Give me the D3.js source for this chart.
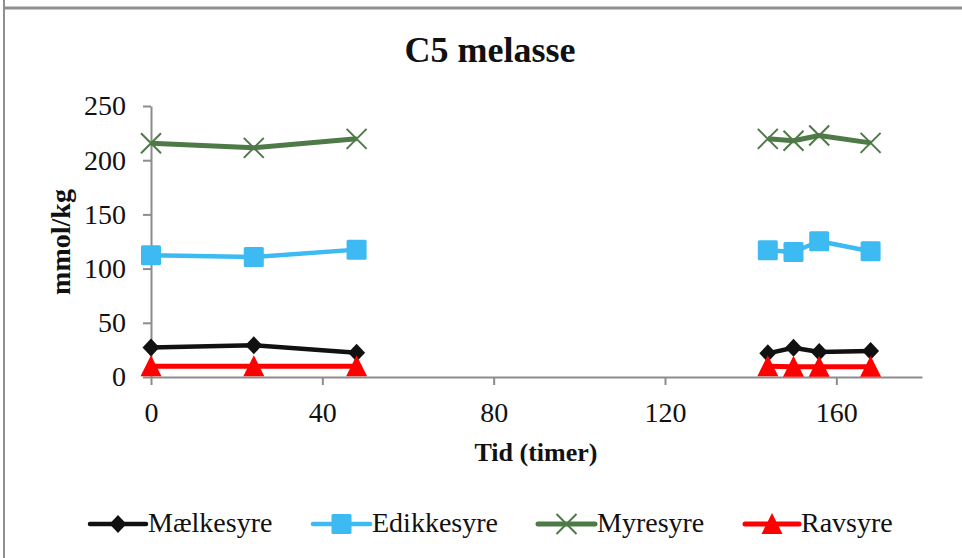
<!DOCTYPE html>
<html>
<head>
<meta charset="utf-8">
<script src="https://cdn.jsdelivr.net/npm/d3@7"></script>
<style>
  html, body { margin: 0; padding: 0; background: #fff; }
  svg { display: block; }
  svg text { font-family: "Liberation Serif", "Times New Roman", Times, "DejaVu Serif", serif; }
</style>
</head>
<body>
<svg id="chart" width="962" height="558"></svg>
<script>
// Sampling times (hours) and the sampling run each belongs to
const hours = [0, 24, 48, 144, 150, 156, 168];
const run   = [1, 1, 1, 2, 2, 2, 2];

// Concentrations, mmol/kg
const maelkesyre = [27.3, 29.3, 22.4, 21.8, 27.0, 23.0, 24.0];
const edikkesyre = [112.3, 110.7, 117.5, 116.9, 115.3, 125.2, 116.0];
const myresyre   = [215.7, 211.4, 219.7, 219.7, 218.0, 222.8, 216.0];
const ravsyre    = [10, 10, 10, 10, 9.5, 9.5, 9.5];

const seriesNames = ["Mælkesyre", "Edikkesyre", "Myresyre", "Ravsyre"];
const xTicks = [0, 40, 80, 120, 160];
const yTicks = [0, 50, 100, 150, 200, 250];

const FONT = "'Liberation Serif', 'Times New Roman', Times, 'DejaVu Serif', serif";

const svg = d3.select("#chart");
const W = 962, H = 558;

// outer frame of the chart area
svg.append("line").attr("x1", 4).attr("x2", W).attr("y1", 8).attr("y2", 8)
  .attr("stroke", "#8f8f8f").attr("stroke-width", 3);
svg.append("line").attr("x1", 4).attr("x2", 4).attr("y1", 0).attr("y2", H)
  .attr("stroke", "#8f8f8f").attr("stroke-width", 2);

const plot = { left: 151, right: 922, top: 106, bottom: 377 };

const x = d3.scaleLinear().domain([0, 180]).range([plot.left, plot.right]);
const y = d3.scaleLinear().domain([0, 250]).range([plot.bottom, plot.top]);

// Title
svg.append("text")
  .attr("x", 490).attr("y", 62)
  .attr("text-anchor", "middle")
  .style("font-family", FONT)
  .attr("font-size", 36).attr("font-weight", "bold").attr("fill", "#111")
  .text("C5 melasse");

// Axes
const axisColor = "#8c8c8c";
const yAxis = svg.append("g")
  .attr("transform", `translate(${plot.left},0)`)
  .call(d3.axisLeft(y).tickValues(yTicks).tickSize(8).tickPadding(17).tickSizeOuter(0));
const xAxis = svg.append("g")
  .attr("transform", `translate(0,${plot.bottom})`)
  .call(d3.axisBottom(x).tickValues(xTicks).tickSize(8).tickPadding(17).tickSizeOuter(0));

[xAxis, yAxis].forEach(g => {
  g.attr("font-family", null);
  g.select(".domain").attr("stroke", axisColor).attr("stroke-width", 2);
  g.selectAll(".tick line").attr("stroke", axisColor).attr("stroke-width", 2);
  g.selectAll(".tick text")
    .style("font-family", FONT)
    .attr("font-size", 28).attr("fill", "#111");
});

// Axis titles
svg.append("text")
  .attr("transform", "translate(70,242) rotate(-90)")
  .attr("text-anchor", "middle")
  .style("font-family", FONT)
  .attr("font-size", 28).attr("font-weight", "bold").attr("fill", "#111")
  .text("mmol/kg");
svg.append("text")
  .attr("x", 536).attr("y", 461)
  .attr("text-anchor", "middle")
  .style("font-family", FONT)
  .attr("font-size", 26).attr("font-weight", "bold").attr("fill", "#111")
  .text("Tid (timer)");

// Series styles
const series = [
  { name: seriesNames[0], values: maelkesyre, color: "#111111", width: 4.5, marker: "diamond" },
  { name: seriesNames[1], values: edikkesyre, color: "#3dbaf2", width: 4.5, marker: "square" },
  { name: seriesNames[2], values: myresyre,   color: "#4e7a47", width: 5,   marker: "cross" },
  { name: seriesNames[3], values: ravsyre,    color: "#ff0000", width: 5,   marker: "triangle" }
];

function drawMarker(g, type, color, cx, cy) {
  if (type === "diamond") {
    g.append("path")
      .attr("d", `M${cx},${cy - 9}L${cx + 8.5},${cy}L${cx},${cy + 9}L${cx - 8.5},${cy}Z`)
      .attr("fill", color);
  } else if (type === "square") {
    g.append("rect")
      .attr("x", cx - 10).attr("y", cy - 10).attr("width", 20).attr("height", 20)
      .attr("rx", 1.5)
      .attr("fill", color);
  } else if (type === "cross") {
    g.append("path")
      .attr("d", `M${cx - 10},${cy - 10}L${cx + 10},${cy + 10}M${cx - 10},${cy + 10}L${cx + 10},${cy - 10}`)
      .attr("stroke", color).attr("stroke-width", 2).attr("fill", "none");
  } else if (type === "triangle") {
    g.append("path")
      .attr("d", `M${cx},${cy - 11}L${cx + 10.5},${cy + 10}L${cx - 10.5},${cy + 10}Z`)
      .attr("fill", color);
  }
}

const line = d3.line().x(d => x(d.h)).y(d => y(d.v));

// each sampling run is drawn as its own connected segment
series.forEach(s => {
  const pts = hours.map((h, i) => ({ h, v: s.values[i], run: run[i] }));
  const g = svg.append("g");
  d3.groups(pts, d => d.run).forEach(([, seg]) => {
    g.append("path")
      .attr("d", line(seg))
      .attr("fill", "none")
      .attr("stroke", s.color)
      .attr("stroke-width", s.width)
      .attr("stroke-linejoin", "round");
  });
  pts.forEach(p => drawMarker(g, s.marker, s.color, x(p.h), y(p.v)));
});

// Legend
const legendY = 524;
const legendItems = [
  { x0: 90,  x1: 146 },
  { x0: 313, x1: 370 },
  { x0: 538, x1: 595 },
  { x0: 745, x1: 799 }
];
series.forEach((s, i) => {
  const li = legendItems[i];
  const g = svg.append("g");
  g.append("line")
    .attr("x1", li.x0).attr("x2", li.x1)
    .attr("y1", legendY).attr("y2", legendY)
    .attr("stroke", s.color).attr("stroke-width", s.width)
    .attr("stroke-linecap", "round");
  drawMarker(g, s.marker, s.color, (li.x0 + li.x1) / 2, legendY);
  g.append("text")
    .attr("x", li.x1 + 2).attr("y", 532)
    .style("font-family", FONT)
    .attr("font-size", 28).attr("fill", "#111")
    .text(s.name);
});
</script>
</body>
</html>
